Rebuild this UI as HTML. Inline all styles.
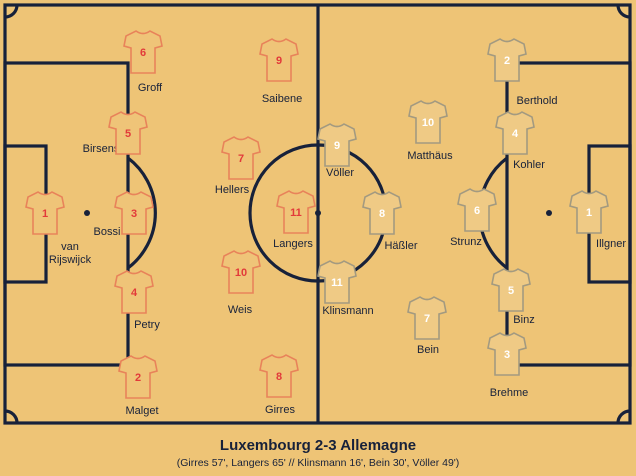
<!DOCTYPE html><html><head><style>
body{margin:0;background:#EEC476;}
svg{display:block}
text{font-family:"Liberation Sans",sans-serif;}
</style></head><body>
<svg width="636" height="476" viewBox="0 0 636 476">
<rect width="636" height="476" fill="#EEC476"/>
<defs>
<path id="sh" d="M-7,-21 Q0,-16 7,-21 L17,-16 L19,-6 L12,-4 L12,21 L-12,21 L-12,-4 L-19,-6 L-17,-16 Z"/>
</defs>
<g fill="none" stroke="#17213a" stroke-width="3.2">
<rect x="5" y="5" width="625" height="418"/>
<line x1="318" y1="5" x2="318" y2="423"/>
<circle cx="318" cy="213" r="68"/>
<rect x="5" y="63" width="123" height="302"/>
<rect x="5" y="146" width="41" height="136"/>
<rect x="507" y="63" width="123" height="302"/>
<rect x="589" y="146" width="41" height="136"/>
<path d="M128,158 A69,69 0 0 1 128,268"/>
<path d="M507,158 A69,69 0 0 0 507,268"/>
<path d="M5,17 A12,12 0 0 0 17,5"/>
<path d="M618,5 A12,12 0 0 0 630,17"/>
<path d="M5,411 A12,12 0 0 1 17,423"/>
<path d="M618,423 A12,12 0 0 1 630,411"/>
</g>
<g fill="#17213a"><circle cx="87" cy="213" r="3"/><circle cx="549" cy="213" r="3"/><circle cx="318" cy="213" r="3"/></g>
<g font-size="11" fill="#17213a" text-anchor="middle">
<text x="150" y="91">Groff</text><text x="282" y="102">Saibene</text><text x="101" y="152">Birsens</text>
<text x="232" y="193">Hellers</text><text x="293" y="247">Langers</text><text x="107" y="235">Bossi</text>
<text x="70" y="250">van</text><text x="70" y="263">Rijswijck</text>
<text x="147" y="328">Petry</text><text x="240" y="313">Weis</text><text x="142" y="414">Malget</text><text x="280" y="413">Girres</text>
<text x="340" y="176">Völler</text><text x="430" y="159">Matthäus</text><text x="537" y="104">Berthold</text>
<text x="529" y="168">Kohler</text><text x="401" y="249">Häßler</text><text x="466" y="245">Strunz</text>
<text x="611" y="247">Illgner</text><text x="348" y="314">Klinsmann</text><text x="428" y="353">Bein</text>
<text x="524" y="323">Binz</text><text x="509" y="396">Brehme</text>
</g>
<g font-size="11" font-weight="bold" text-anchor="middle">
<g fill="#efc478" stroke="#e8835a" stroke-width="1.6">
<use href="#sh" x="143" y="52"/><use href="#sh" x="279" y="60"/><use href="#sh" x="128" y="133"/>
<use href="#sh" x="241" y="158"/><use href="#sh" x="296" y="212"/><use href="#sh" x="134" y="213"/>
<use href="#sh" x="45" y="213"/><use href="#sh" x="134" y="292"/><use href="#sh" x="241" y="272"/>
<use href="#sh" x="138" y="377"/><use href="#sh" x="279" y="376"/>
</g>
<g fill="#e23a3a">
<text x="143" y="56">6</text><text x="279" y="64">9</text><text x="128" y="137">5</text>
<text x="241" y="162">7</text><text x="296" y="216">11</text><text x="134" y="217">3</text>
<text x="45" y="217">1</text><text x="134" y="296">4</text><text x="241" y="276">10</text>
<text x="138" y="381">2</text><text x="279" y="380">8</text>
</g>
<g fill="#efca85" stroke="#a39a80" stroke-width="1.6">
<use href="#sh" x="337" y="145"/><use href="#sh" x="428" y="122"/><use href="#sh" x="507" y="60"/>
<use href="#sh" x="515" y="133"/><use href="#sh" x="382" y="213"/><use href="#sh" x="477" y="210"/>
<use href="#sh" x="589" y="212"/><use href="#sh" x="337" y="282"/><use href="#sh" x="427" y="318"/>
<use href="#sh" x="511" y="290"/><use href="#sh" x="507" y="354"/>
</g>
<g fill="#ffffff">
<text x="337" y="149">9</text><text x="428" y="126">10</text><text x="507" y="64">2</text>
<text x="515" y="137">4</text><text x="382" y="217">8</text><text x="477" y="214">6</text>
<text x="589" y="216">1</text><text x="337" y="286">11</text><text x="427" y="322">7</text>
<text x="511" y="294">5</text><text x="507" y="358">3</text>
</g>
</g>
<text x="318" y="450" font-size="15" font-weight="bold" fill="#17213a" text-anchor="middle">Luxembourg 2-3 Allemagne</text>
<text x="318" y="466" font-size="10.5" fill="#17213a" text-anchor="middle">(Girres 57', Langers 65' // Klinsmann 16', Bein 30', Völler 49')</text>
</svg>
</body></html>
